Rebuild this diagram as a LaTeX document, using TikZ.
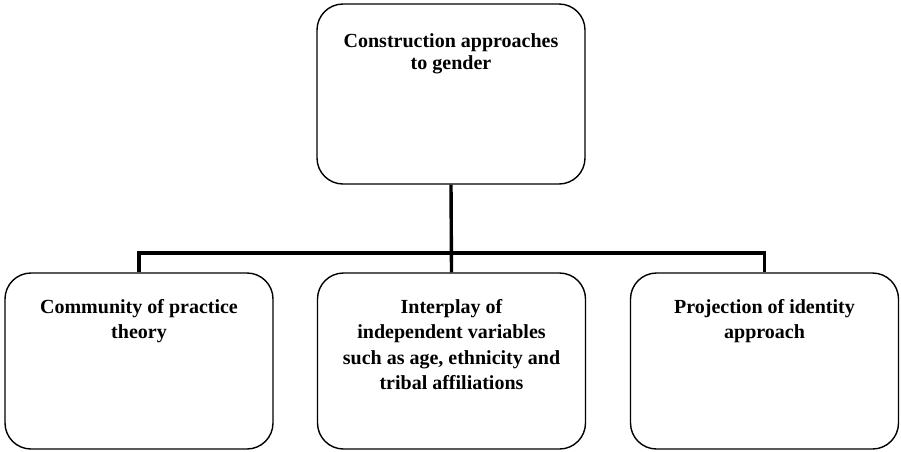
\documentclass[tikz,border=0pt]{standalone}
\usepackage{fontspec}
\setmainfont{Liberation Serif}
\begin{document}
\begin{tikzpicture}[x=1pt,y=-1pt,
  box/.style={draw, line width=1.4pt, rounded corners=26pt, minimum width=268pt, inner sep=0pt},
  boxtext/.style={font=\bfseries\fontsize{20}{25.5}\selectfont, align=center, anchor=north, inner sep=0pt},
  link/.style={line width=3.4pt}]
\useasboundingbox (0,0) rectangle (901,451);

% top concept
\node[box, minimum height=180pt] (root) at (451,94) {};
\node[boxtext, font=\bfseries\fontsize{20}{22.5}\selectfont] (rootlabel) at ([yshift=-30pt]root.north) {Construction approaches\\to gender};

% three branches
\node[box, minimum height=176pt] (left) at (139,361) {};
\node[box, minimum height=176pt] (mid) at (451.5,361) {};
\node[box, minimum height=176pt] (right) at (764.5,361) {};

\node[boxtext] (leftlabel) at ([yshift=-26.5pt]left.north) {Community of practice\\theory};
\node[boxtext] (midlabel) at ([yshift=-26.5pt]mid.north) {Interplay of\\independent variables\\such as age, ethnicity and\\tribal affiliations};
\node[boxtext] (rightlabel) at ([yshift=-26.5pt]right.north) {Projection of identity\\approach};

% tree connectors
\coordinate (bus) at (451,253);
\draw[link] (root.south) -- (mid.north);
\draw[link] (left.north) -- (left.north |- bus) -- (right.north |- bus) -- (right.north);
\end{tikzpicture}
\end{document}
